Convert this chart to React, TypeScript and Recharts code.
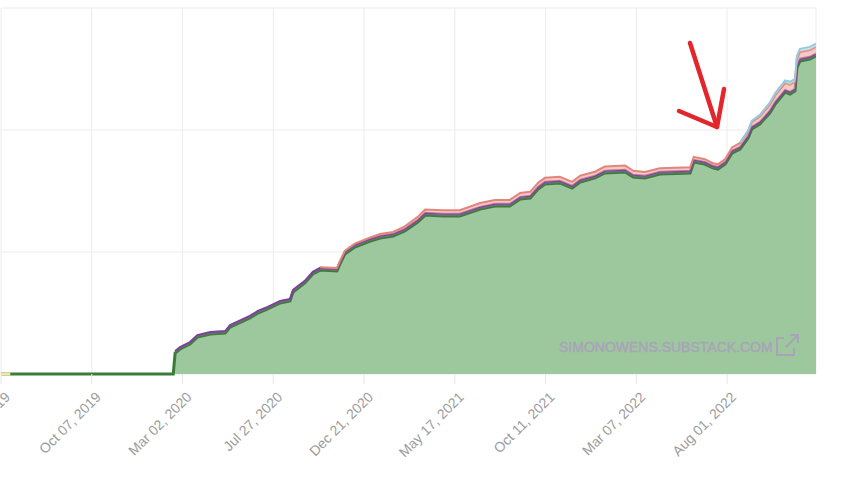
import { ComposedChart, Area, Line, XAxis, YAxis, CartesianGrid } from 'recharts';

const START = '2019-05-13';

const tickDates = [
  '2019-05-13', '2019-10-07', '2020-03-02', '2020-07-27', '2020-12-21',
  '2021-05-17', '2021-10-11', '2022-03-07', '2022-08-01',
];
const tickLabels = [
  'May 13, 2019', 'Oct 07, 2019', 'Mar 02, 2020', 'Jul 27, 2020', 'Dec 21, 2020',
  'May 17, 2021', 'Oct 11, 2021', 'Mar 07, 2022', 'Aug 01, 2022',
];

const dates = [
  '2019-05-13', '2019-05-28', '2020-02-16', '2020-02-19', '2020-02-27', '2020-03-14',
  '2020-03-26', '2020-04-16', '2020-05-10', '2020-05-18', '2020-06-19', '2020-07-02',
  '2020-07-18', '2020-08-07', '2020-08-23', '2020-08-28', '2020-09-16', '2020-09-29',
  '2020-10-11', '2020-11-07', '2020-11-12', '2020-11-20', '2020-12-06', '2020-12-31',
  '2021-01-16', '2021-02-06', '2021-02-25', '2021-03-18', '2021-03-30', '2021-04-28',
  '2021-05-25', '2021-06-27', '2021-07-21', '2021-08-14', '2021-08-31', '2021-09-16',
  '2021-09-29', '2021-10-10', '2021-11-03', '2021-11-23', '2021-12-06', '2021-12-30',
  '2022-01-15', '2022-02-17', '2022-03-02', '2022-03-21', '2022-04-14', '2022-06-02',
  '2022-06-08', '2022-06-26', '2022-07-09', '2022-07-17', '2022-07-29', '2022-08-09',
  '2022-08-22', '2022-09-04', '2022-09-10', '2022-09-23', '2022-10-09', '2022-10-18',
  '2022-11-03', '2022-11-11', '2022-11-19', '2022-11-22', '2022-11-27', '2022-12-13',
  '2022-12-23',
];

// main series (green)
const mainValues = [
  0, 0, 0, 17.2, 20.5, 24.6,
  30.3, 32.8, 33.6, 38.5, 45.9, 50.0,
  53.3, 58.2, 59.8, 67.2, 74.6, 82.0,
  85.2, 84.4, 90.2, 98.4, 104.1, 109.0,
  111.5, 113.1, 117.2, 124.6, 130.3, 129.5,
  129.5, 135.2, 137.7, 137.7, 143.4, 144.3,
  151.6, 155.7, 156.6, 152.5, 157.4, 160.7,
  164.8, 165.6, 161.5, 160.7, 163.9, 164.8,
  173.8, 172.1, 168.9, 168.0, 172.1, 181.1,
  184.4, 193.4, 200.8, 204.9, 213.9, 221.3,
  231.1, 229.5, 232.0, 250.8, 256.6, 258.2,
  260.7,
];

// stacked on top (purple)
const purpleValues = [
  null, null, null, 1.6, 1.6, 1.6,
  1.6, 1.6, 1.6, 1.7, 1.7, 1.7,
  1.7, 1.7, 1.7, 1.8, 1.8, 1.8,
  1.8, 1.8, 1.8, 1.8, 1.8, 1.8,
  1.8, 1.8, 1.8, 1.8, 1.8, 1.8,
  1.8, 1.8, 1.8, 1.8, 1.8, 1.8,
  1.8, 1.8, 1.8, 1.8, 1.8, 1.8,
  1.8, 1.8, 1.8, 1.8, 1.8, 1.8,
  1.8, 1.8, 1.8, 1.8, 1.8, 1.8,
  1.8, 1.8, 1.8, 1.8, 1.8, 1.8,
  1.8, 1.8, 1.8, 1.8, 1.8, 1.8,
  1.8,
];

// stacked on top (salmon)
const salmonValues = [
  null, null, null, null, null, null,
  null, null, null, null, null, null,
  null, null, null, null, null, null,
  0.4, 0.6, 0.6, 0.8, 1.0, 1.2,
  1.4, 1.6, 2.0, 2.4, 2.8, 3.0,
  3.0, 3.1, 3.1, 3.2, 3.2, 3.2,
  3.3, 3.3, 3.3, 3.2, 3.3, 3.3,
  3.4, 3.4, 3.2, 3.1, 3.0, 2.8,
  2.4, 2.2, 2.1, 2.1, 2.3, 2.8,
  3.2, 3.6, 3.9, 4.3, 4.8, 5.2,
  5.6, 5.8, 5.8, 5.6, 5.6, 5.6,
  5.6,
];

// stacked on top (light blue)
const blueValues = [
  null, null, null, null, null, null,
  null, null, null, null, null, null,
  null, null, null, null, null, null,
  null, null, null, null, null, null,
  null, null, null, null, null, null,
  null, null, null, null, null, null,
  null, null, null, null, null, null,
  null, null, null, null, null, null,
  null, null, null, null, null, null,
  0.5, 0.8, 1.0, 1.4, 1.8, 2.0,
  2.2, 2.4, 2.4, 2.4, 2.5, 2.5,
  2.6,
];

// yellow series, only at the very start
const yellowValues = [0, 0];

const dayOf = (d: string) => Math.round((Date.parse(d) - Date.parse(START)) / 86400000);

const data = dates.map((d, i) => ({
  day: dayOf(d),
  main: mainValues[i],
  purple: purpleValues[i],
  salmon: salmonValues[i],
  blue: blueValues[i],
  yellow: i < yellowValues.length ? yellowValues[i] : null,
}));

const ticks = tickDates.map(dayOf);
const labelFor = new Map(ticks.map((t, i) => [t, tickLabels[i]]));

const DateTick = ({ x, y, payload }: any) => (
  <g transform={`translate(${x + 10},${y + 12})`}>
    <text
      textAnchor="end"
      transform="rotate(-45)"
      fill="#9c9c9c"
      fontSize={14}
      fontFamily="'Liberation Sans', Arial, sans-serif"
    >
      {labelFor.get(payload.value)}
    </text>
  </g>
);

export default function App() {
  return (
    <div style={{ position: 'absolute', left: 0, top: 0, width: 854, height: 477, background: '#fff' }}>
      <ComposedChart width={854} height={477} data={data} margin={{ top: 8, right: 38, left: 1, bottom: 0 }}>
        <CartesianGrid stroke="#ececec" />
        <XAxis
          type="number"
          dataKey="day"
          domain={[0, 1320]}
          ticks={ticks}
          interval={0}
          tick={<DateTick />}
          tickSize={10}
          tickLine={{ stroke: '#e6e6e6' }}
          axisLine={false}
          height={103}
          allowDataOverflow
        />
        <YAxis hide domain={[0, 300]} ticks={[0, 100, 200, 300]} />
        <Area
          type="linear"
          dataKey="main"
          stackId="s"
          stroke="#3a7d3a"
          strokeWidth={3}
          fill="#9dc79d"
          fillOpacity={1}
          isAnimationActive={false}
        />
        <Area
          type="linear"
          dataKey="purple"
          stackId="s"
          stroke="#7d3f9a"
          strokeWidth={2}
          fill="#9a6bb0"
          fillOpacity={0.5}
          isAnimationActive={false}
        />
        <Area
          type="linear"
          dataKey="salmon"
          stackId="s"
          stroke="#e3867a"
          strokeWidth={2}
          fill="#eda79d"
          fillOpacity={0.6}
          isAnimationActive={false}
        />
        <Area
          type="linear"
          dataKey="blue"
          stackId="s"
          stroke="#96c9db"
          strokeWidth={2}
          fill="#b9dde8"
          fillOpacity={0.6}
          isAnimationActive={false}
        />
        <Line
          type="linear"
          dataKey="yellow"
          stroke="#f3e8a2"
          strokeWidth={3}
          dot={false}
          isAnimationActive={false}
        />
      </ComposedChart>
      <svg
        width={854}
        height={477}
        style={{ position: 'absolute', left: 0, top: 0, pointerEvents: 'none' }}
      >
        <text
          x={559}
          y={352}
          fontSize={14}
          fontFamily="'Liberation Sans', Arial, sans-serif"
          fill="#a9a3b9"
          stroke="#a9a3b9"
          strokeWidth={0.4}
        >
          SIMONOWENS.SUBSTACK.COM
        </text>
        <g fill="none" stroke="#a9a3b9" strokeWidth={2}>
          <path d="M784,338 H777 V355 H794 V348" />
          <path d="M786,347 L798,335 M790,335 H798 V343" />
        </g>
        <g fill="none" stroke="#e3262b" strokeWidth={4.5} strokeLinecap="round" strokeLinejoin="round">
          <path d="M690,43 L717,127" />
          <path d="M679,111 L717,127 L724,89" />
        </g>
      </svg>
    </div>
  );
}
